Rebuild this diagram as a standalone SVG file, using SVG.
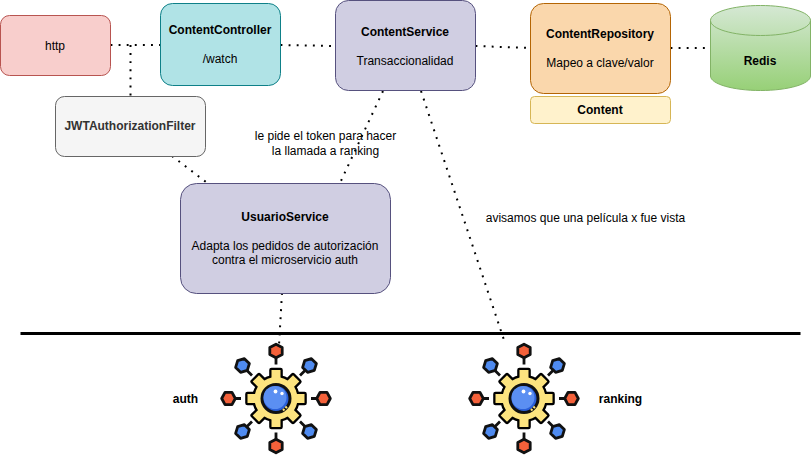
<svg xmlns="http://www.w3.org/2000/svg" width="811" height="456" viewBox="0 0 811 456">
<style>
text{font-family:"Liberation Sans",Arial,sans-serif;font-size:12px;text-anchor:middle;fill:#000}
.b{font-weight:bold}
.c{fill:none;stroke:#000;stroke-width:2;stroke-dasharray:1.900 6.200}
.blk{fill:#000;stroke:#000;stroke-width:4.600;stroke-linejoin:round}
.yel{fill:#fde47f}
.hr{fill:#f4613a;stroke:#111;stroke-width:2.800;stroke-linejoin:round}
.hb{fill:#4f8bf0;stroke:#111;stroke-width:2.800;stroke-linejoin:round}
.sp{stroke:#111;stroke-width:2.800;fill:none}
</style>
<defs>
<linearGradient id="rg" x1="0" y1="0" x2="0" y2="1"><stop offset="0" stop-color="#d5e8d4"/><stop offset="1" stop-color="#97d077"/></linearGradient>
<polygon id="hex" points="-6.800,0 -3.500,-6.200 3.500,-6.200 6.800,0 3.500,6.200 -3.500,6.200"/>
<rect id="tooth" x="-4.500" y="-28.500" width="9" height="12"/>
<g id="gear">
<path class="sp" d="M0,-41V-34M0,41V34M-41,0H-35M41,0H35M-29,-28L-24,-23M29,-28L24,-23M-29,28L-24,23M29,28L24,23"/>
<use href="#hex" class="hr" transform="translate(0,-47.500) rotate(90)"/>
<use href="#hex" class="hr" transform="translate(0,47.500) rotate(90)"/>
<use href="#hex" class="hr" transform="translate(-47.500,0)"/>
<use href="#hex" class="hr" transform="translate(47.500,0)"/>
<use href="#hex" class="hb" transform="translate(-33.500,-33) rotate(45)"/>
<use href="#hex" class="hb" transform="translate(33.500,-33) rotate(45)"/>
<use href="#hex" class="hb" transform="translate(-33.500,33) rotate(45)"/>
<use href="#hex" class="hb" transform="translate(33.500,33) rotate(45)"/>
<g class="blk">
<circle r="21.500"/>
<use href="#tooth"/><use href="#tooth" transform="rotate(45)"/><use href="#tooth" transform="rotate(90)"/><use href="#tooth" transform="rotate(135)"/><use href="#tooth" transform="rotate(180)"/><use href="#tooth" transform="rotate(225)"/><use href="#tooth" transform="rotate(270)"/><use href="#tooth" transform="rotate(315)"/>
</g>
<g class="yel">
<circle r="21.500"/>
<use href="#tooth"/><use href="#tooth" transform="rotate(45)"/><use href="#tooth" transform="rotate(90)"/><use href="#tooth" transform="rotate(135)"/><use href="#tooth" transform="rotate(180)"/><use href="#tooth" transform="rotate(225)"/><use href="#tooth" transform="rotate(270)"/><use href="#tooth" transform="rotate(315)"/>
</g>
<circle r="14" fill="#2a5fd8" stroke="#111" stroke-width="3"/>
<circle cx="-1" cy="-1" r="11.500" fill="#5b8ff2"/>
<circle cx="-0.500" cy="-7" r="1.900" fill="#fff"/>
<circle cx="6" cy="-5" r="1.700" fill="#fff"/>
<path d="M7,12L11,8" stroke="#fde47f" stroke-width="2.200" stroke-dasharray="2 1.500"/>
</g>
</defs>
<g id="connectors">
<path class="c" d="M110.500,45H160.500"/>
<path class="c" d="M130.500,45V96"/>
<path class="c" d="M172,156L206,182"/>
<path class="c" d="M280.500,45L335.500,46"/>
<path class="c" d="M475.500,46L530.500,48"/>
<path class="c" d="M670.500,48H710.500"/>
<path class="c" d="M383,91L340,183"/>
<path class="c" d="M421,91L505,343"/>
<path class="c" d="M282,293L279,345"/>
</g>
<g id="http"><rect x="0.500" y="15.500" width="110" height="60" rx="9" fill="#f8cecc" stroke="#b85450"/><text x="55" y="50">http</text></g>
<g id="ContentController"><rect x="160.500" y="3.500" width="120" height="82" rx="12" fill="#b0e3e6" stroke="#0e8088"/><text x="220" y="34" class="b">ContentController</text><text x="220" y="63">/watch</text></g>
<g id="ContentService"><rect x="335.500" y="0.500" width="140" height="90" rx="13" fill="#d0cee2" stroke="#56517e"/><text x="405" y="36" class="b">ContentService</text><text x="405" y="65">Transaccionalidad</text></g>
<g id="ContentRepository"><rect x="530.500" y="3.500" width="140" height="90" rx="13" fill="#fad7ac" stroke="#b46504"/><text x="600" y="38" class="b">ContentRepository</text><text x="600" y="67">Mapeo a clave/valor</text></g>
<g id="Content"><rect x="530.500" y="96.500" width="140" height="27" rx="4" fill="#fff2cc" stroke="#d6b656"/><text x="600" y="114" class="b">Content</text></g>
<g id="Redis"><path d="M710.500,20.500C710.500,12 733,5.500 760.500,5.500C788,5.500 810.500,12 810.500,20.500V76C810.500,84 788,90.500 760.500,90.500C733,90.500 710.500,84 710.500,76Z" fill="url(#rg)" stroke="#82b366"/><path d="M710.500,20.500C710.500,29 733,35.500 760.500,35.500C788,35.500 810.500,29 810.500,20.500" fill="none" stroke="#82b366"/><text x="760" y="65" class="b">Redis</text></g>
<g id="JWTAuthorizationFilter"><rect x="55.500" y="96.500" width="150" height="60" rx="9" fill="#f5f5f5" stroke="#666"/><text x="130" y="130" class="b" style="fill:#333">JWTAuthorizationFilter</text></g>
<g id="UsuarioService"><rect x="180.500" y="183.500" width="210" height="110" rx="16" fill="#d0cee2" stroke="#56517e"/><text x="285" y="221" class="b">UsuarioService</text><text x="285" y="250">Adapta los pedidos de autorización</text><text x="285" y="264">contra el microservicio auth</text></g>
<g id="labels"><text x="325.500" y="140">le pide el token para hacer</text><text x="325.500" y="155">la llamada a ranking</text><text x="585.500" y="222">avisamos que una película x fue vista</text></g>
<path id="divider" d="M20.500,333.500H800.500" stroke="#000" stroke-width="3" fill="none"/>
<g id="auth"><use href="#gear" transform="translate(276,398.500)"/><text x="185.500" y="403" class="b">auth</text></g>
<g id="ranking"><use href="#gear" transform="translate(524,398.500)"/><text x="620.500" y="403" class="b">ranking</text></g>
</svg>
